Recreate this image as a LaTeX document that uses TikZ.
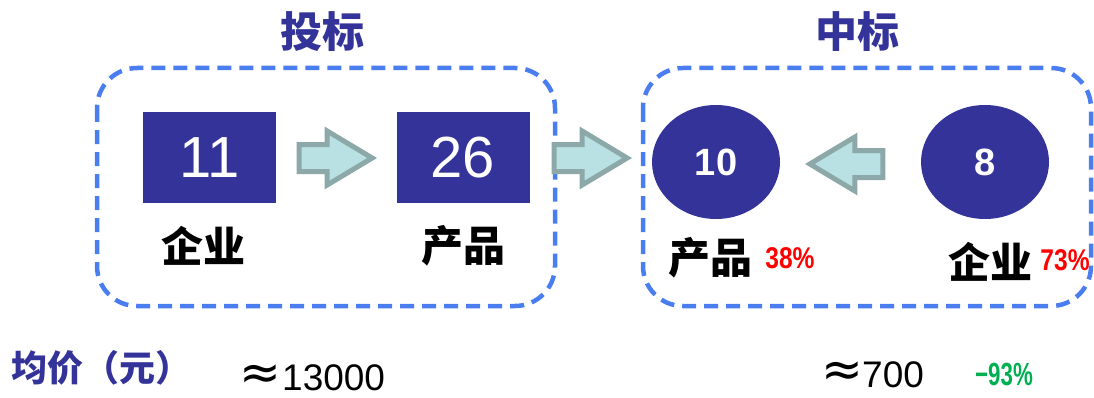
\documentclass[tikz,border=0pt]{standalone}
\usepackage{fontspec}
\setmainfont{Liberation Sans}
\newfontfamily\cjk{Noto Sans CJK SC}
\newfontfamily\dejavu{DejaVu Sans}
\usetikzlibrary{shapes.arrows,shapes.geometric}
\definecolor{navy}{RGB}{51,51,153}
\definecolor{frameblue}{RGB}{74,126,240}
\definecolor{arrfill}{RGB}{185,224,226}
\definecolor{arrline}{RGB}{140,168,168}
\definecolor{pgreen}{RGB}{0,176,80}
\tikzset{
  frame/.style={draw=frameblue, line width=4.5pt, dash pattern=on 14pt off 8pt, rounded corners=40pt},
  numbox/.style={fill=navy, minimum width=133pt, minimum height=91pt, inner sep=0, text=white, font=\fontsize{58}{58}\selectfont},
  numcirc/.style={ellipse, fill=navy, minimum width=128pt, minimum height=114pt, inner sep=0, text=white, font=\bfseries\fontsize{38}{38}\selectfont},
  blockarr/.style={single arrow, draw=arrline, fill=arrfill, line width=5pt, minimum height=73pt, inner xsep=0pt, inner ysep=11pt, single arrow head extend=13.5pt, single arrow tip angle=62, anchor=tip},
  title/.style={text=navy, font=\cjk\bfseries\fontsize{42}{42}\selectfont},
  cjklabel/.style={text=black, font=\cjk\bfseries\fontsize{42}{42}\selectfont},
  pct/.style={text=red, font=\bfseries\fontsize{30}{30}\selectfont, xscale=0.82},
  val/.style={text=black, font=\fontsize{37}{37}\selectfont, inner sep=0pt},
  approxsign/.style={text=black, font=\dejavu\fontsize{50}{50}\selectfont, inner sep=0pt},
}
\begin{document}
\begin{tikzpicture}[x=1pt,y=1pt]
\useasboundingbox (0,0) rectangle (1094,397);
% titles
\node[title] (t1) at (322,365) {投标};
\node[title] (t2) at (857,365) {中标};
% frames
\draw[frame] (97,329) rectangle (555,91);
\draw[frame] (643,329) rectangle (1091,91);
% boxes
\node[numbox] (b11) at (209.5,239.5) {11};
\node[numbox] (b26) at (463,239.5) {26};
\node[numcirc] (c10) at (716,235) {10};
\node[numcirc] (c8) at (985,235) {8};
% arrows
\node[blockarr] (a1) at (377,239) {};
\node[blockarr] (a2) at (632,239) {};
\node[blockarr, shape border rotate=180] (a3) at (805,233) {};
% labels
\node[cjklabel] (l1) at (203,151) {企业};
\node[cjklabel] (l2) at (463,151) {产品};
\node[cjklabel] (l3) at (710,139) {产品};
\node[pct] (p3) at (790,139) {38\%};
\node[cjklabel] (l4) at (990,135) {企业};
\node[pct] (p4) at (1065,137) {73\%};
% bottom
\node[anchor=west, text=navy, font=\cjk\bfseries\fontsize{36}{36}\selectfont] (avg) at (8,29) {均价（元）};
\node[approxsign] (ap1) at (260,20) {≈};
\node[val, anchor=west] (v1) at (282,19) {13000};
\node[approxsign] (ap2) at (842,23) {≈};
\node[val, anchor=west] (v2) at (862,22) {700};
\node[pct, text=pgreen, font=\bfseries\fontsize{32}{32}\selectfont, xscale=0.85] (v3) at (1004,22) {−93\%};
\end{tikzpicture}
\end{document}
